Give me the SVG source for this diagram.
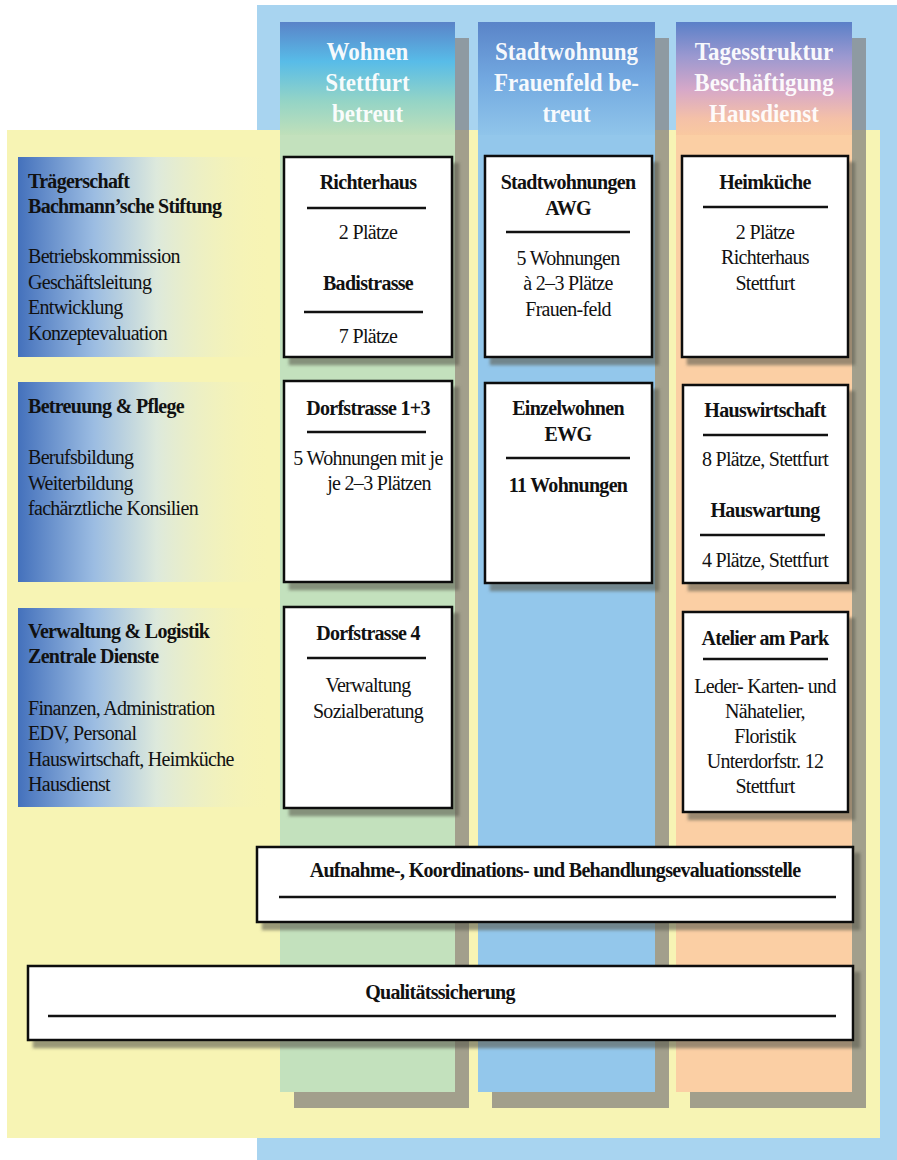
<svg xmlns="http://www.w3.org/2000/svg" width="897" height="1160" viewBox="0 0 897 1160">
<defs>
<linearGradient id="gHead" x1="0" y1="22" x2="0" y2="135" gradientUnits="userSpaceOnUse">
<stop offset="0" stop-color="#5a83c8"/><stop offset="0.35" stop-color="#58bce8"/><stop offset="0.7" stop-color="#94d4c6"/><stop offset="1" stop-color="#c0e0ba"/>
</linearGradient>
<linearGradient id="bHead" x1="0" y1="22" x2="0" y2="135" gradientUnits="userSpaceOnUse">
<stop offset="0" stop-color="#5a84c8"/><stop offset="0.5" stop-color="#72a8e0"/><stop offset="1" stop-color="#90c5ea"/>
</linearGradient>
<linearGradient id="oHead" x1="0" y1="22" x2="0" y2="135" gradientUnits="userSpaceOnUse">
<stop offset="0" stop-color="#5a80c8"/><stop offset="0.3" stop-color="#9a98d0"/><stop offset="0.6" stop-color="#d6a8c8"/><stop offset="0.85" stop-color="#f4c0a8"/><stop offset="1" stop-color="#f9c9a0"/>
</linearGradient>
<linearGradient id="lp" x1="0" y1="0" x2="1" y2="0">
<stop offset="0" stop-color="#4471bc"/><stop offset="0.3" stop-color="#9bbce2"/><stop offset="0.55" stop-color="#dde9dc"/><stop offset="1" stop-color="#f6f3b6" stop-opacity="0"/>
</linearGradient>
<filter id="sh" x="-10%" y="-10%" width="130%" height="130%">
<feDropShadow dx="6" dy="7" stdDeviation="1.5" flood-color="#5a5a50" flood-opacity="0.6"/>
</filter>
<style>
.hd{font-family:"Liberation Serif",serif;font-weight:bold;font-size:25px;fill:#ffffff;fill-opacity:0.95;text-anchor:middle}
.lt{font-family:"Liberation Serif",serif;font-size:20px;letter-spacing:-0.7px;fill:#111}
.lb{font-family:"Liberation Serif",serif;font-size:20px;letter-spacing:-0.7px;font-weight:bold;fill:#111}
.bt{font-family:"Liberation Serif",serif;font-size:20px;letter-spacing:-0.7px;fill:#111;text-anchor:middle}
.bb{font-family:"Liberation Serif",serif;font-size:20px;letter-spacing:-0.7px;font-weight:bold;fill:#111;text-anchor:middle}
.box{fill:#ffffff;stroke:#111;stroke-width:2.5}
.ln{stroke:#111;stroke-width:2.5}
.csh{fill:#a29f8c}
.cst{fill:#8e9aa2}
</style>
</defs>

<g id="background">
<rect x="257" y="5" width="640" height="1155" fill="#a8d4f0"/>
<rect x="7" y="130" width="873" height="1008" fill="#f7f4b4"/>
</g>

<g id="columns">
<rect class="csh" x="294" y="38" width="175" height="1070"/>
<rect class="cst" x="294" y="38" width="175" height="92"/>
<rect x="280" y="22" width="175" height="1070" fill="#c3e1bd"/>
<rect x="280" y="22" width="175" height="113" fill="url(#gHead)"/>

<rect class="csh" x="492" y="38" width="177" height="1070"/>
<rect class="cst" x="492" y="38" width="177" height="92"/>
<rect x="478" y="22" width="177" height="1070" fill="#93c7eb"/>
<rect x="478" y="22" width="177" height="113" fill="url(#bHead)"/>

<rect class="csh" x="690" y="38" width="176" height="1070"/>
<rect class="cst" x="690" y="38" width="176" height="92"/>
<rect x="676" y="22" width="176" height="1070" fill="#fbcfa4"/>
<rect x="676" y="22" width="176" height="113" fill="url(#oHead)"/>
</g>

<g id="col-headers">
<g transform="translate(367.5,0) scale(0.92,1)">
<text class="hd" x="0" y="60">Wohnen</text>
<text class="hd" x="0" y="91">Stettfurt</text>
<text class="hd" x="0" y="122">betreut</text>
</g>
<g transform="translate(566.5,0) scale(0.92,1)">
<text class="hd" x="0" y="60">Stadtwohnung</text>
<text class="hd" x="0" y="91">Frauenfeld be-</text>
<text class="hd" x="0" y="122">treut</text>
</g>
<g transform="translate(764,0) scale(0.92,1)">
<text class="hd" x="0" y="60">Tagesstruktur</text>
<text class="hd" x="0" y="91">Beschäftigung</text>
<text class="hd" x="0" y="122">Hausdienst</text>
</g>
</g>

<g id="panel-traegerschaft">
<rect x="18" y="157" width="252" height="200" fill="url(#lp)"/>
<text class="lb" x="28" y="188">Trägerschaft</text>
<text class="lb" x="28" y="213">Bachmann’sche Stiftung</text>
<text class="lt" x="28" y="263">Betriebskommission</text>
<text class="lt" x="28" y="288.5">Geschäftsleitung</text>
<text class="lt" x="28" y="314">Entwicklung</text>
<text class="lt" x="28" y="339.5">Konzeptevaluation</text>
</g>

<g id="panel-betreuung">
<rect x="18" y="382" width="252" height="200" fill="url(#lp)"/>
<text class="lb" x="28" y="413">Betreuung &amp; Pflege</text>
<text class="lt" x="28" y="464">Berufsbildung</text>
<text class="lt" x="28" y="489.5">Weiterbildung</text>
<text class="lt" x="28" y="515">fachärztliche Konsilien</text>
</g>

<g id="panel-verwaltung">
<rect x="18" y="608" width="252" height="199" fill="url(#lp)"/>
<text class="lb" x="28" y="638">Verwaltung &amp; Logistik</text>
<text class="lb" x="28" y="663">Zentrale Dienste</text>
<text class="lt" x="28" y="715">Finanzen, Administration</text>
<text class="lt" x="28" y="740">EDV, Personal</text>
<text class="lt" x="28" y="765.5">Hauswirtschaft, Heimküche</text>
<text class="lt" x="28" y="791">Hausdienst</text>
</g>

<g id="box-richterhaus">
<rect class="box" x="284" y="157" width="168" height="200" filter="url(#sh)"/>
<text class="bb" x="368" y="189">Richterhaus</text>
<line class="ln" x1="307" y1="208" x2="426" y2="208"/>
<text class="bt" x="368" y="239">2 Plätze</text>
<text class="bb" x="368" y="290">Badistrasse</text>
<line class="ln" x1="304" y1="312" x2="423" y2="312"/>
<text class="bt" x="368" y="343">7 Plätze</text>
</g>

<g id="box-stadtwohnungen">
<rect class="box" x="485" y="156" width="167" height="201" filter="url(#sh)"/>
<text class="bb" x="568" y="189">Stadtwohnungen</text>
<text class="bb" x="568" y="215">AWG</text>
<line class="ln" x1="506" y1="232" x2="630" y2="232"/>
<text class="bt" x="568" y="265">5 Wohnungen</text>
<text class="bt" x="568" y="290">à 2–3 Plätze</text>
<text class="bt" x="568" y="316">Frauen-feld</text>
</g>

<g id="box-heimkueche">
<rect class="box" x="682" y="156" width="166" height="201" filter="url(#sh)"/>
<text class="bb" x="765" y="189">Heimküche</text>
<line class="ln" x1="703" y1="207" x2="828" y2="207"/>
<text class="bt" x="765" y="239">2 Plätze</text>
<text class="bt" x="765" y="264">Richterhaus</text>
<text class="bt" x="765" y="290">Stettfurt</text>
</g>

<g id="box-dorfstrasse13">
<rect class="box" x="284" y="381" width="168" height="201" filter="url(#sh)"/>
<text class="bb" x="368" y="415">Dorfstrasse 1+3</text>
<line class="ln" x1="307" y1="432" x2="426" y2="432"/>
<text class="bt" x="368" y="465">5 Wohnungen mit je</text>
<text class="bt" x="379" y="490">je 2–3 Plätzen</text>
</g>

<g id="box-einzelwohnen">
<rect class="box" x="485" y="383" width="167" height="200" filter="url(#sh)"/>
<text class="bb" x="568" y="415">Einzelwohnen</text>
<text class="bb" x="568" y="441">EWG</text>
<line class="ln" x1="506" y1="458" x2="630" y2="458"/>
<text class="bb" x="568" y="492">11 Wohnungen</text>
</g>

<g id="box-hauswirtschaft">
<rect class="box" x="683" y="385" width="165" height="198" filter="url(#sh)"/>
<text class="bb" x="765" y="417">Hauswirtschaft</text>
<line class="ln" x1="703" y1="435" x2="828" y2="435"/>
<text class="bt" x="765" y="466">8 Plätze, Stettfurt</text>
<text class="bb" x="765" y="517">Hauswartung</text>
<line class="ln" x1="700" y1="535" x2="825" y2="535"/>
<text class="bt" x="765" y="567">4 Plätze, Stettfurt</text>
</g>

<g id="box-dorfstrasse4">
<rect class="box" x="284" y="607" width="168" height="201" filter="url(#sh)"/>
<text class="bb" x="368" y="640">Dorfstrasse 4</text>
<line class="ln" x1="307" y1="658" x2="426" y2="658"/>
<text class="bt" x="368" y="692">Verwaltung</text>
<text class="bt" x="368" y="718">Sozialberatung</text>
</g>

<g id="box-atelier">
<rect class="box" x="683" y="612" width="165" height="200" filter="url(#sh)"/>
<text class="bb" x="765" y="645">Atelier am Park</text>
<line class="ln" x1="703" y1="659" x2="828" y2="659"/>
<text class="bt" x="765" y="693">Leder- Karten- und</text>
<text class="bt" x="765" y="718">Nähatelier,</text>
<text class="bt" x="765" y="743">Floristik</text>
<text class="bt" x="765" y="768">Unterdorfstr. 12</text>
<text class="bt" x="765" y="793">Stettfurt</text>
</g>

<g id="box-aufnahme">
<rect class="box" x="257" y="847" width="596" height="75" filter="url(#sh)"/>
<text class="bb" x="555" y="877">Aufnahme-, Koordinations- und Behandlungsevaluationsstelle</text>
<line class="ln" x1="279" y1="897" x2="836" y2="897"/>
</g>

<g id="box-qualitaet">
<rect class="box" x="28" y="966" width="825" height="74" filter="url(#sh)"/>
<text class="bb" x="440" y="999">Qualitätssicherung</text>
<line class="ln" x1="48" y1="1016" x2="836" y2="1016"/>
</g>

<g id="connectors"></g>
</svg>
